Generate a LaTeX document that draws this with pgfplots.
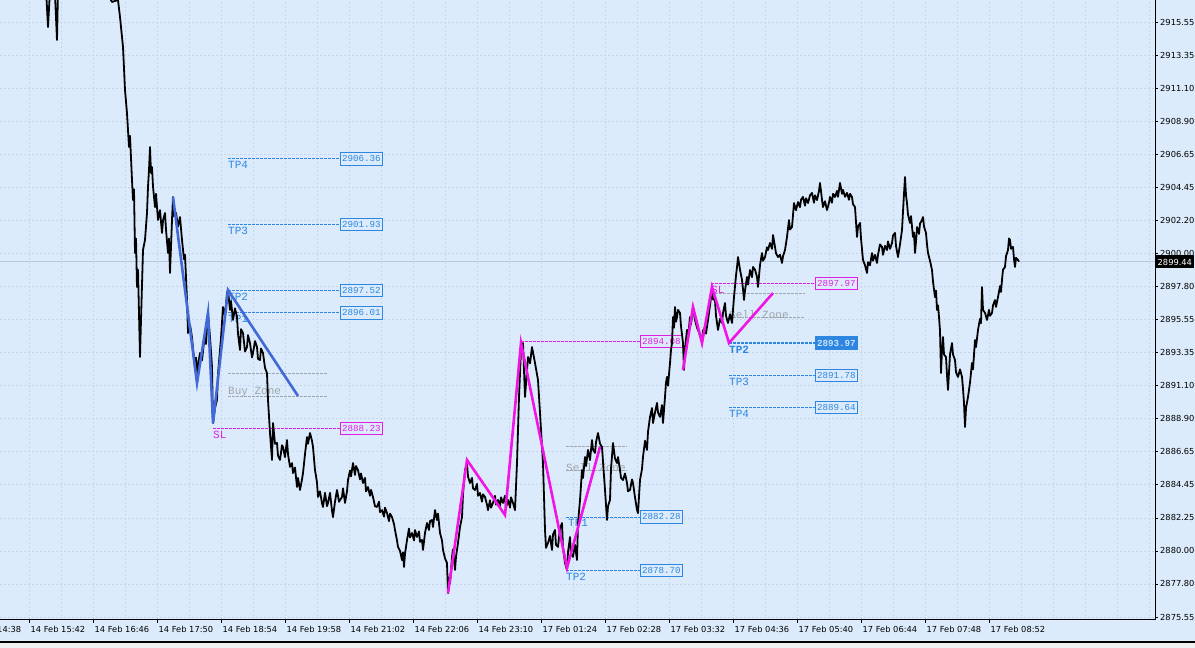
\documentclass[border=0pt]{standalone}
\usepackage{pgfplots}
\pgfplotsset{compat=1.18}
\usepackage{pgfplotstable}
\usepackage{fontspec}
\setmainfont{DejaVu Sans}
\newfontfamily\monof{Liberation Mono}
\definecolor{bgc}{RGB}{220,235,251}
\definecolor{gridc}{RGB}{198,214,236}
\definecolor{tpc}{RGB}{45,135,225}
\definecolor{slc}{RGB}{225,30,225}
\definecolor{zonec}{RGB}{160,165,172}
\definecolor{zzmag}{RGB}{240,20,230}
\definecolor{zzblue}{RGB}{65,105,215}
\definecolor{bidc}{RGB}{185,200,222}
\newcommand{\tickfont}{\fontsize{8.3}{9}\selectfont}
\newcommand{\boxfont}{\fontsize{9.2}{10}\selectfont\monof}
\newcommand{\lblfont}{\fontsize{11}{12}\selectfont\monof}

\pgfplotstableread{
x p
45 2919.05
48 2915.21
50 2917.70
55 2917.37
57 2914.34
58 2917.70
80 2919.72
108 2917.37
112 2916.90
118 2917.03
120 2915.89
123 2913.87
125 2910.98
127 2909.43
129 2907.15
130 2907.90
132 2904.93
133 2903.58
134 2904.30
135 2900.02
136 2901.00
137 2897.74
138 2898.90
140 2893.03
141 2895.52
143 2900.22
145 2900.90
147 2902.71
148 2904.46
149 2905.60
150 2907.15
151 2905.40
152 2905.80
153 2904.50
155 2903.11
156 2904.00
158 2902.24
160 2902.90
162 2901.37
163 2902.20
165 2902.71
166 2901.60
168 2900.02
169 2901.00
170 2898.68
172 2902.24
173 2903.79
174 2902.50
176 2902.71
178 2901.80
180 2902.44
182 2900.90
184 2899.60
185 2899.90
187 2896.86
188 2894.64
190 2895.20
192 2894.37
193 2893.60
195 2892.36
196 2893.00
197 2891.28
198 2892.50
200 2893.30
202 2892.80
205 2894.64
206 2893.90
208 2895.99
210 2894.37
212 2892.36
213 2888.59
215 2889.60
217 2890.14
218 2891.90
220 2893.50
221 2894.30
223 2896.39
225 2895.80
227 2897.33
228 2897.53
230 2896.19
231 2896.80
233 2895.52
235 2896.30
237 2895.72
238 2894.60
240 2893.50
241 2894.90
243 2894.64
245 2893.40
247 2893.70
248 2894.50
250 2893.97
252 2893.00
253 2893.30
255 2894.10
257 2893.70
258 2892.90
260 2892.83
261 2893.60
263 2893.30
265 2892.30
267 2891.95
268 2890.14
270 2887.92
272 2886.11
273 2888.59
275 2887.20
277 2887.25
278 2886.40
280 2886.11
282 2887.10
283 2886.98
285 2886.30
287 2887.45
288 2886.50
290 2885.64
292 2885.90
293 2885.23
295 2885.60
297 2884.29
298 2884.90
300 2884.09
302 2884.80
303 2885.23
305 2886.50
307 2887.65
308 2887.20
310 2887.92
312 2887.40
313 2886.98
315 2885.43
317 2884.60
318 2883.62
320 2884.00
322 2883.20
323 2882.95
325 2883.90
327 2883.00
328 2883.22
330 2883.90
332 2882.70
333 2882.27
335 2883.30
337 2884.09
339 2883.30
342 2883.62
343 2884.20
345 2883.22
347 2884.00
348 2884.76
350 2885.40
351 2885.00
353 2885.90
355 2885.10
356 2885.70
358 2885.43
360 2884.80
361 2885.20
363 2884.56
365 2884.90
366 2884.00
368 2884.29
370 2883.70
371 2884.10
373 2883.62
375 2883.00
377 2882.95
379 2883.30
380 2882.60
382 2882.74
384 2882.30
385 2882.90
387 2882.54
389 2882.00
390 2882.50
392 2882.27
394 2881.80
395 2881.40
397 2880.70
398 2880.26
400 2880.00
402 2879.38
403 2879.90
404 2878.91
405 2879.80
407 2880.73
409 2881.50
410 2880.90
412 2881.20
414 2880.70
415 2881.40
417 2880.93
419 2881.30
420 2880.60
422 2880.73
423 2880.06
425 2881.20
427 2881.87
429 2881.40
430 2882.00
432 2882.07
433 2881.60
435 2882.74
437 2882.07
438 2882.50
440 2881.20
442 2880.70
443 2880.06
445 2879.50
447 2879.18
448 2877.16
449 2878.20
450 2877.80
452 2879.59
453 2880.10
455 2878.71
456 2879.60
458 2880.53
460 2881.60
462 2882.27
463 2883.80
465 2885.43
467 2885.90
468 2885.00
470 2884.56
472 2884.90
473 2884.20
475 2884.09
477 2884.50
478 2883.70
480 2883.89
482 2883.30
483 2883.80
485 2883.62
487 2883.10
488 2882.74
490 2883.40
491 2882.90
493 2883.22
495 2883.70
496 2883.10
498 2883.42
500 2883.00
501 2883.60
503 2883.22
505 2883.70
506 2882.90
508 2883.42
510 2882.90
511 2883.60
513 2883.22
515 2882.74
517 2885.90
519 2890.34
521 2893.50
523 2893.97
525 2890.34
528 2893.03
530 2892.60
532 2893.70
535 2892.63
538 2891.48
540 2889.27
543 2885.90
545 2881.40
546 2880.20
548 2880.53
550 2881.00
552 2880.06
553 2881.10
555 2881.40
556 2880.40
558 2880.26
560 2881.50
562 2881.87
563 2880.20
565 2879.18
567 2878.71
568 2879.90
570 2880.93
571 2879.80
573 2879.59
575 2880.40
577 2879.38
578 2881.87
580 2883.40
582 2885.43
583 2884.90
585 2886.31
586 2885.70
588 2886.78
590 2886.10
592 2887.45
593 2886.80
595 2886.58
596 2887.30
598 2887.92
600 2887.20
602 2886.98
603 2886.00
605 2884.09
607 2882.07
608 2883.00
610 2883.42
611 2885.50
613 2887.25
615 2886.20
617 2885.90
618 2886.30
620 2885.43
621 2884.90
623 2884.76
625 2885.20
627 2884.56
628 2884.00
630 2884.09
632 2884.80
633 2884.56
635 2883.60
637 2882.74
638 2882.54
640 2884.76
642 2885.50
643 2886.31
645 2887.40
647 2886.78
648 2888.00
650 2889.00
652 2889.60
653 2888.59
655 2889.30
657 2889.94
658 2889.30
660 2889.00
662 2889.80
663 2888.59
665 2890.34
666 2891.30
667 2891.69
668 2891.10
670 2892.63
671 2893.50
672 2893.97
673 2895.72
674 2895.00
675 2896.39
676 2895.40
677 2895.72
678 2896.20
680 2895.99
681 2895.10
683 2893.97
684 2892.16
685 2893.60
687 2894.85
688 2894.30
690 2895.72
691 2895.20
693 2896.39
694 2895.90
695 2895.52
697 2895.00
698 2894.85
700 2894.50
702 2894.17
703 2894.80
705 2895.05
706 2894.60
708 2895.52
710 2896.50
712 2897.53
713 2896.90
715 2896.86
716 2895.80
718 2894.85
720 2895.60
722 2895.32
723 2896.00
725 2896.66
726 2895.80
728 2895.32
730 2895.90
732 2895.32
734 2897.06
736 2898.50
737 2899.08
738 2899.75
740 2898.90
742 2898.21
743 2897.60
744 2896.86
745 2897.50
747 2898.41
748 2897.90
750 2898.88
752 2898.40
753 2899.08
755 2898.90
757 2898.41
758 2897.74
760 2899.20
762 2900.02
763 2899.50
765 2899.75
767 2900.40
768 2900.22
770 2900.70
772 2900.30
773 2901.23
775 2900.43
776 2900.00
778 2899.75
780 2899.90
782 2899.35
783 2899.80
785 2900.22
787 2901.10
789 2902.24
790 2901.60
792 2901.77
794 2903.38
796 2902.90
798 2903.45
800 2903.10
801 2903.60
803 2903.79
805 2903.20
806 2903.70
808 2903.38
810 2903.90
812 2904.06
814 2903.40
815 2903.90
817 2903.58
819 2904.20
820 2904.73
822 2903.60
823 2903.11
825 2903.50
827 2902.91
829 2903.40
830 2903.79
832 2903.40
833 2904.00
835 2903.79
837 2904.20
838 2903.80
840 2904.73
842 2904.00
843 2904.26
845 2903.80
847 2904.06
849 2903.60
850 2904.00
852 2903.79
853 2903.30
855 2903.11
857 2901.10
858 2901.80
860 2902.04
861 2901.00
863 2899.55
865 2899.20
867 2898.68
868 2899.40
870 2899.20
872 2900.02
873 2899.50
875 2899.90
877 2899.35
878 2899.90
880 2900.60
882 2900.43
883 2899.90
885 2900.50
887 2900.22
888 2900.80
890 2900.30
892 2900.69
893 2901.20
895 2901.37
896 2900.50
898 2899.75
900 2900.60
902 2901.57
903 2902.80
904 2904.00
905 2905.13
906 2903.90
907 2903.38
908 2902.60
910 2902.04
911 2902.50
913 2901.10
914 2901.40
915 2900.02
916 2900.80
917 2901.77
919 2901.30
920 2902.00
922 2902.24
923 2902.44
924 2901.80
926 2901.37
927 2900.60
928 2900.02
930 2899.50
932 2898.88
933 2898.10
935 2897.06
936 2897.50
937 2896.19
938 2896.50
939 2895.72
940 2894.80
941 2891.95
942 2893.50
943 2894.37
944 2893.20
946 2893.03
947 2891.80
948 2890.81
949 2892.00
950 2893.20
952 2893.97
953 2893.20
955 2892.83
956 2892.00
958 2891.69
960 2892.20
962 2891.69
963 2890.90
964 2889.94
965 2888.32
966 2889.60
968 2890.34
970 2891.30
972 2892.63
973 2892.20
975 2894.17
976 2893.70
978 2894.85
980 2895.60
981 2895.30
982 2897.74
983 2896.19
985 2896.00
987 2895.52
989 2896.20
990 2895.80
992 2895.99
993 2896.50
995 2896.86
996 2896.40
998 2897.06
1000 2897.80
1001 2897.40
1002 2898.21
1003 2898.90
1005 2899.08
1006 2899.80
1008 2900.22
1009 2901.00
1010 2900.90
1011 2900.30
1013 2900.43
1014 2899.60
1015 2899.08
1016 2899.70
1018 2899.55
1019 2899.44
}\price

\pgfplotstableread{
x p
173 2903.79
197 2891.28
208 2895.99
213 2888.59
228 2897.53
298 2890.41
}\zzbuy

\pgfplotstableread{
x p
448 2877.16
467 2886.11
505 2882.41
521 2893.97
567 2878.85
600 2886.98
}\zzsellA

\pgfplotstableread{
x p
683 2892.16
693 2896.39
702 2893.97
712 2897.74
729 2893.97
773 2897.33
}\zzsellB

\newcommand{\lvlbox}[3]{\node[draw=#1, fill=bgc, text=#1, font=\boxfont, inner xsep=1.6pt, inner ysep=0pt, minimum height=12.5pt, anchor=west, line width=0.8pt] at (axis cs:#2,#3) {#3};}
\newcommand{\lvltxt}[4]{\node[text=#1, font=\lblfont, inner sep=0pt, anchor=north west] at (axis cs:#2,#3) [yshift=-2.5pt] {#4};}

\begin{document}
\begin{tikzpicture}
\path[use as bounding box] (0pt,-28pt) rectangle (1195pt,620pt);
\fill[bgc] (0pt,-22pt) rectangle (1195pt,620pt);
\fill[black!6] (0pt,-28pt) rectangle (1195pt,-22pt);
\draw[black, line width=1.4pt] (0pt,-22pt) -- (1195pt,-22pt);
\begin{axis}[
  at={(0pt,0pt)}, anchor=south west,
  scale only axis, width=1155pt, height=620pt,
  xmin=0, xmax=1155, ymin=2875.35, ymax=2917.03,
  axis x line*=bottom, axis y line*=right,
  axis line style={-, black, line width=1pt},
  xtick={29,93,...,989},
  xticklabels={14 Feb 15:42,14 Feb 16:46,14 Feb 17:50,14 Feb 18:54,14 Feb 19:58,14 Feb 21:02,14 Feb 22:06,14 Feb 23:10,17 Feb 01:24,17 Feb 02:28,17 Feb 03:32,17 Feb 04:36,17 Feb 05:40,17 Feb 06:44,17 Feb 07:48,17 Feb 08:52},
  minor xtick={61,125,189,253,317,381,445,509,573,637,701,765,829,893,957,1021,1053,1085,1117,1149},
  ytick={2875.55,2877.772,2879.994,2882.217,2884.439,2886.661,2888.883,2891.106,2893.328,2895.55,2897.772,2899.994,2902.217,2904.439,2906.661,2908.883,2911.106,2913.328,2915.55},
  yticklabels={2875.55,2877.80,2880.00,2882.25,2884.45,2886.65,2888.90,2891.10,2893.35,2895.55,2897.80,2900.00,2902.20,2904.45,2906.65,2908.90,2911.10,2913.35,2915.55},
  tick align=outside, major tick length=3pt, minor tick length=0pt,
  tick style={black, line width=0.6pt},
  x tick label style={font=\tickfont, anchor=north west, inner sep=0pt, xshift=1.5pt, yshift=-3pt},
  y tick label style={font=\tickfont, anchor=west, inner sep=0pt, xshift=2pt},
  grid=both,
  major grid style={gridc, dash pattern=on 2pt off 2pt, line width=0.7pt},
  minor grid style={gridc, dash pattern=on 2pt off 2pt, line width=0.7pt},
  clip=true,
]
% bid line
\addplot[bidc, line width=0.8pt, forget plot] coordinates {(0,2899.44) (1155,2899.44)};

% ---- buy setup levels
\addplot[tpc, dash pattern=on 2.5pt off 1.5pt, line width=0.7pt] coordinates {(228,2906.36) (340,2906.36)};
\addplot[tpc, dash pattern=on 2.5pt off 1.5pt, line width=0.7pt] coordinates {(228,2901.93) (340,2901.93)};
\addplot[tpc, dash pattern=on 2.5pt off 1.5pt, line width=0.7pt] coordinates {(228,2897.52) (340,2897.52)};
\addplot[tpc, dash pattern=on 2.5pt off 1.5pt, line width=0.7pt] coordinates {(228,2896.01) (340,2896.01)};
\addplot[zonec, dash pattern=on 2.5pt off 1.5pt, line width=0.7pt] coordinates {(228,2891.90) (328,2891.90)};
\addplot[zonec, dash pattern=on 2.5pt off 1.5pt, line width=0.7pt] coordinates {(228,2890.41) (328,2890.41)};
\addplot[slc, dash pattern=on 2.5pt off 1.5pt, line width=0.7pt] coordinates {(213,2888.23) (340,2888.23)};
\lvltxt{tpc}{228}{2906.36}{TP4}
\lvltxt{tpc}{228}{2901.93}{TP3}
\lvltxt{tpc}{228}{2897.52}{TP2}
\lvltxt{tpc}{228}{2896.01}{TP1}
\lvltxt{slc}{213}{2888.23}{SL}
\node[text=zonec, font=\lblfont, inner sep=0pt, anchor=south west] at (axis cs:228,2890.41) [yshift=-1.5pt] {Buy Zone};
\lvlbox{tpc}{340}{2906.36}
\lvlbox{tpc}{340}{2901.93}
\lvlbox{tpc}{340}{2897.52}
\lvlbox{tpc}{340}{2896.01}
\lvlbox{slc}{340}{2888.23}

% ---- sell setup 1
\addplot[slc, dash pattern=on 2.5pt off 1.5pt, line width=0.7pt] coordinates {(521,2894.08) (640,2894.08)};
\addplot[zonec, dash pattern=on 2.5pt off 1.5pt, line width=0.7pt] coordinates {(566,2887.05) (627,2887.05)};
\addplot[zonec, dash pattern=on 2.5pt off 1.5pt, line width=0.7pt] coordinates {(566,2885.43) (627,2885.43)};
\addplot[tpc, dash pattern=on 2.5pt off 1.5pt, line width=0.7pt] coordinates {(566,2882.28) (640,2882.28)};
\addplot[tpc, dash pattern=on 2.5pt off 1.5pt, line width=0.7pt] coordinates {(566,2878.70) (640,2878.70)};
\node[text=zonec, font=\lblfont, inner sep=0pt, anchor=south west] at (axis cs:566,2885.43) [yshift=-1.5pt] {Sell Zone};
\lvltxt{tpc}{568}{2882.28}{TP1}
\lvltxt{tpc}{566}{2878.70}{TP2}
\lvlbox{slc}{640}{2894.08}
\lvlbox{tpc}{640}{2882.28}
\lvlbox{tpc}{640}{2878.70}

% ---- sell setup 2
\addplot[slc, dash pattern=on 2.5pt off 1.5pt, line width=0.7pt] coordinates {(711,2897.97) (815,2897.97)};
\addplot[zonec, dash pattern=on 2.5pt off 1.5pt, line width=0.7pt] coordinates {(711,2897.33) (805,2897.33)};
\addplot[zonec, dash pattern=on 2.5pt off 1.5pt, line width=0.7pt] coordinates {(729,2895.72) (805,2895.72)};
\addplot[tpc, dash pattern=on 2.5pt off 1.5pt, line width=1.3pt] coordinates {(729,2893.97) (815,2893.97)};
\addplot[tpc, dash pattern=on 2.5pt off 1.5pt, line width=0.7pt] coordinates {(729,2891.78) (815,2891.78)};
\addplot[tpc, dash pattern=on 2.5pt off 1.5pt, line width=0.7pt] coordinates {(729,2889.64) (815,2889.64)};
\node[text=zonec, font=\lblfont, inner sep=0pt, anchor=south west] at (axis cs:729,2895.72) [yshift=-1.5pt] {Sell Zone};
\lvltxt{slc}{711}{2897.97}{SL}
\node[text=tpc, font=\lblfont\bfseries, inner sep=0pt, anchor=north west] at (axis cs:729,2893.97) [yshift=-2.5pt] {TP2};
\lvltxt{tpc}{729}{2891.78}{TP3}
\lvltxt{tpc}{729}{2889.64}{TP4}
\lvlbox{slc}{815}{2897.97}
\node[draw=tpc, fill=tpc, text=white!75!tpc, font=\boxfont\bfseries, inner xsep=1.6pt, inner ysep=0pt, minimum height=12.5pt, anchor=west, line width=0.8pt] at (axis cs:815,2893.97) {2893.97};
\lvlbox{tpc}{815}{2891.78}
\lvlbox{tpc}{815}{2889.64}

% ---- price
\addplot[black, line width=1.8pt, line join=round] table[x=x, y=p] {\price};

% ---- zigzags
\addplot[zzblue, line width=2.6pt] table[x=x, y=p] {\zzbuy};
\addplot[zzmag, line width=2.6pt] table[x=x, y=p] {\zzsellA};
\addplot[zzmag, line width=2.6pt] table[x=x, y=p] {\zzsellB};
\end{axis}
\node[font=\tickfont, inner sep=0pt, anchor=north west] at (-33.5pt,-6pt) {14 Feb 14:38};
\node[fill=black, text=white, font=\tickfont, inner xsep=1.5pt, inner ysep=0pt, minimum height=13pt, anchor=west] at (1156pt,358pt) {2899.44};
\end{tikzpicture}
\end{document}
